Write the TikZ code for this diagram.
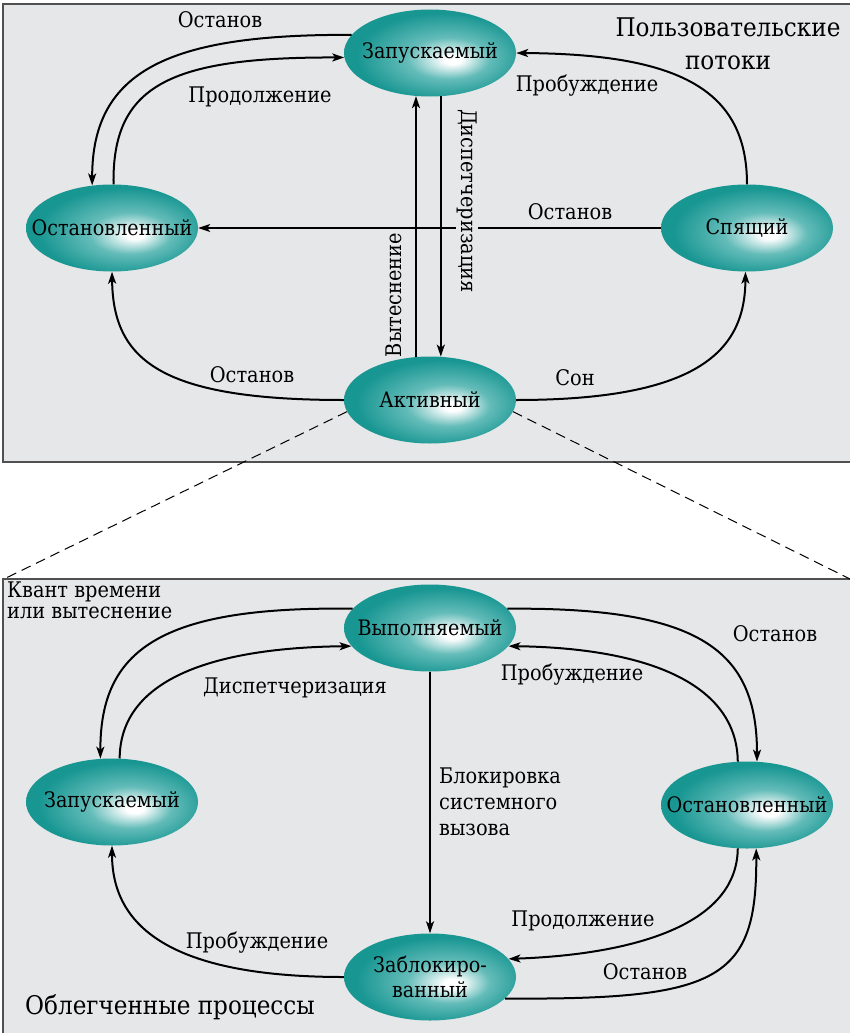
\documentclass[tikz,border=0pt]{standalone}
\usepackage{fontspec}
\setmainfont{DejaVu Serif Condensed}
\newfontfamily\lsr{DejaVu Serif Condensed}
\usetikzlibrary{shapes.geometric,arrows.meta}
\definecolor{bgray}{RGB}{230,231,232}
\definecolor{framec}{RGB}{80,80,80}
\definecolor{tealdark}{RGB}{24,150,146}
\definecolor{tealmid}{RGB}{100,188,185}
\pgfdeclareradialshading{ballteal}{\pgfpoint{7bp}{-4bp}}{color(0bp)=(white); color(2.5bp)=(white); color(12bp)=(tealmid); color(25bp)=(tealdark); color(50bp)=(tealdark)}
\newcommand{\mbx}[1]{\makebox[0pt]{#1}}
\tikzset{
  st/.style={ellipse, shade, shading=ballteal, minimum width=172pt, minimum height=87pt, inner sep=0pt, font=\lsr\fontsize{21.3}{25}\selectfont},
  lab/.style={inner sep=1pt, font=\lsr\fontsize{21.5}{26}\selectfont},
  ttl/.style={inner sep=1pt, align=center, font=\lsr\fontsize{25.7}{33}\selectfont},
  arr/.style={line width=2pt, -{Stealth[length=12pt,width=8pt,inset=3pt]}},
  frm/.style={fill=bgray, draw=framec, line width=1.5pt},
  dsh/.style={line width=1pt, dash pattern=on 10pt off 6pt}
}
\begin{document}
\begin{tikzpicture}[x=1pt,y=-1pt]
\useasboundingbox (0,0) rectangle (850,1033);
\fill[white] (0,0) rectangle (850,1033);
\draw[frm] (3,4) rectangle (853,462);
\draw[frm] (3,579) rectangle (853,1040);
\coordinate (dl) at (4,579);
\coordinate (dr) at (850,579);

% top nodes
\node[st] (Z1) at (430,53) {\mbx{Запускаемый}};
\node[st] (O1) at (112,228) {\mbx{Остановленный}};
\node[st] (S1) at (747,228) {\mbx{Спящий}};
\node[st] (A1) at (430,400) {\mbx{Активный}};
% bottom nodes
\node[st] (V) at (430,628) {\mbx{Выполняемый}};
\node[st] (Z2) at (112,802) {\mbx{Запускаемый}};
\node[st] (O2) at (747,805) {\mbx{Остановленный}};
\node[st, align=center] (B) at (430,977) {Заблокиро-\\ванный};

% dashed
\draw[dsh] (A1.188) -- (dl);
\draw[dsh] (A1.-8) -- (dr);

% top connectors
\draw[arr] (Z1.167) .. controls (170,34) and (92,70) .. (O1.115);
\draw[arr] (O1.88) .. controls (112,85) and (170,57) .. (Z1.183);
\draw[arr] (S1.90) .. controls (747,90) and (680,54) .. (Z1.0);
\draw[arr] (S1.west) -- (O1.east);
\draw[arr] (A1.108) -- (Z1.252);
\draw[arr] (Z1.284) -- (A1.76);
\draw[arr] (A1.180) .. controls (160,400) and (113,360) .. (O1.south);
\draw[arr] (A1.0) .. controls (700,400) and (745,350) .. (S1.268);

% bottom connectors
\draw[arr] (V.166) .. controls (160,606) and (100,650) .. (Z2.105);
\draw[arr] (Z2.80) .. controls (120,685) and (200,648) .. (V.193);
\draw[arr] (V.14) .. controls (700,607) and (757,650) .. (O2.77);
\draw[arr] (O2.102) .. controls (737,685) and (650,648) .. (V.-13);
\draw[arr] (V.south) -- (B.north);
\draw[arr] (O2.258) .. controls (737,930) and (620,955) .. (B.13);
\draw[arr] (B.-16) .. controls (720,1000) and (757,980) .. (O2.282);
\draw[arr] (B.180) .. controls (160,977) and (112,920) .. (Z2.south);

% top labels
\node[lab] (l1) at (220,20) {Останов};
\node[lab] (l2) at (260,97) {Продолжение};
\node[lab] (l3) at (587,86) {Пробуждение};
\node[ttl] (t1) at (728,44) {Пользовательские\\потоки};
\node[lab] (l4) at (570,212) {Останов};
\node[lab, rotate=90] (l5) at (394,295) {Вытеснение};
\node[lab, rotate=-90, fill=bgray] (l6) at (467,201) {Диспетчеризация};
\node[lab] (l7) at (252,375) {Останов};
\node[lab] (l8) at (575,378) {Сон};

% bottom labels
\node[lab, align=left, anchor=north west, font=\lsr\fontsize{21.5}{21}\selectfont] (m1) at (6,581) {Квант времени\\или вытеснение};
\node[lab] (m2) at (295,688) {Диспетчеризация};
\node[lab] (m3) at (775,634) {Останов};
\node[lab] (m4) at (572,675) {Пробуждение};
\node[lab, align=left, anchor=north west] (m5) at (438,767) {Блокировка\\системного\\вызова};
\node[lab] (m6) at (583,921) {Продолжение};
\node[lab] (m7) at (645,972) {Останов};
\node[lab] (m8) at (257,943) {Пробуждение};
\node[ttl] (t2) at (170,1007) {Облегченные процессы};
\end{tikzpicture}
\end{document}
